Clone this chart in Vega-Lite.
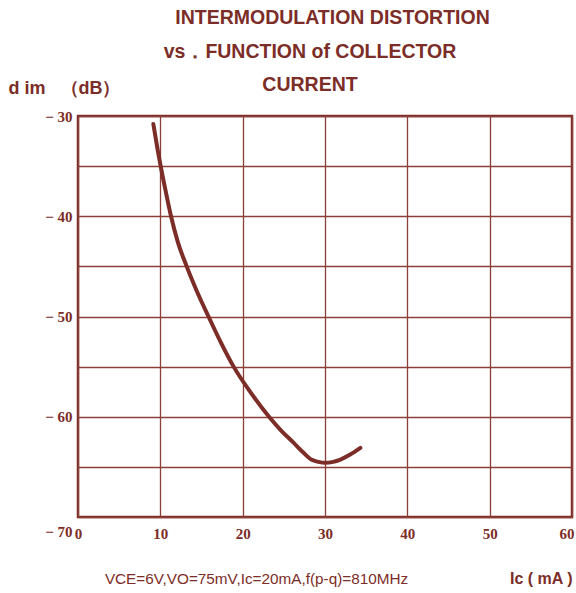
{
  "$schema": "https://vega.github.io/schema/vega-lite/v6.json",
  "autosize": {"type": "none"},
  "width": 494,
  "height": 401,
  "padding": {"left": 78, "top": 116, "right": 4, "bottom": 76},
  "background": "white",
  "config": {
    "view": {"stroke": "#7c2d27", "strokeWidth": 2.5},
    "axis": {"labelColor": "#7c2d27", "titleColor": "#7c2d27", "gridColor": "#8a3f38", "gridWidth": 1.3, "gridOpacity": 1}
  },
  "title": {
    "text": ["\u2800\u2800\u2800INTERMODULATION DISTORTION", "vs．FUNCTION of COLLECTOR", "CURRENT"],
    "font": "Liberation Sans",
    "fontSize": 19.5,
    "fontWeight": "bold",
    "color": "#7c2d27",
    "lineHeight": 33.5,
    "anchor": "middle",
    "dx": -15,
    "offset": -16.5
  },
  "data": {
    "values": [
      {"Ic": 9.15, "dim": -30.8},
      {"Ic": 9.68, "dim": -33.4},
      {"Ic": 10.04, "dim": -35.0},
      {"Ic": 10.65, "dim": -37.5},
      {"Ic": 11.3, "dim": -40.0},
      {"Ic": 12.1, "dim": -42.5},
      {"Ic": 13.2, "dim": -45.0},
      {"Ic": 14.45, "dim": -47.5},
      {"Ic": 15.85, "dim": -50.0},
      {"Ic": 17.3, "dim": -52.5},
      {"Ic": 18.9, "dim": -55.0},
      {"Ic": 20.9, "dim": -57.5},
      {"Ic": 23.2, "dim": -60.0},
      {"Ic": 24.7, "dim": -61.4},
      {"Ic": 26.2, "dim": -62.6},
      {"Ic": 27.4, "dim": -63.6},
      {"Ic": 28.4, "dim": -64.3},
      {"Ic": 29.2, "dim": -64.5},
      {"Ic": 30.0, "dim": -64.6},
      {"Ic": 31.0, "dim": -64.5},
      {"Ic": 31.8, "dim": -64.3},
      {"Ic": 33.0, "dim": -63.8},
      {"Ic": 34.3, "dim": -63.1}
    ]
  },
  "resolve": {"axis": {"x": "independent", "y": "independent"}},
  "layer": [
    {
      "mark": {"type": "line", "color": "#7c2d27", "strokeWidth": 4, "interpolate": "monotone", "strokeCap": "round"},
      "encoding": {
        "x": {
          "field": "Ic", "type": "quantitative",
          "scale": {"domain": [0, 60], "nice": false, "zero": false},
          "axis": {
            "orient": "bottom",
            "values": [0, 10, 20, 30, 40, 50, 60],
            "domain": false, "ticks": false,
            "labelFont": "Liberation Serif", "labelFontSize": 15, "labelFontWeight": "bold",
            "labelPadding": 9, "labelFlush": false,
            "labelAlign": {"condition": {"test": "datum.value == 60", "value": "right"}, "value": "center"},
            "labelOffset": {"condition": {"test": "datum.value == 60", "value": 2}, "value": 0},
            "title": "Ic (  mA )",
            "titleFont": "Liberation Sans", "titleFontSize": 16, "titleFontWeight": "bold",
            "titleAnchor": "end", "titleAlign": "right", "titleBaseline": "middle",
            "titleX": 494, "titleY": 61
          }
        },
        "y": {
          "field": "dim", "type": "quantitative",
          "scale": {"domain": [-70, -30], "nice": false, "zero": false},
          "axis": {
            "values": [-30, -35, -40, -45, -50, -55, -60, -65, -70],
            "labelExpr": "datum.value % 10 == 0 ? '−  ' + abs(datum.value) : ''",
            "domain": false, "ticks": false,
            "labelFont": "Liberation Serif", "labelFontSize": 15, "labelFontWeight": "bold",
            "labelPadding": 6, "labelFlush": false,
            "labelOffset": {"condition": {"test": "datum.value == -70", "value": 14}, "value": 0},
            "title": "d im\u00a0\u00a0\u00a0（dB）",
            "titleFont": "Liberation Sans", "titleFontSize": 18, "titleFontWeight": "bold",
            "titleAngle": 0, "titleAlign": "left", "titleBaseline": "middle",
            "titleX": -70, "titleY": -28
          }
        }
      }
    },
    {
      "mark": {"type": "line", "opacity": 0},
      "encoding": {
        "x": {
          "field": "Ic", "type": "quantitative",
          "axis": {
            "orient": "top", "labels": false, "ticks": false, "domain": false, "grid": false,
            "title": "VCE=6V,VO=75mV,Ic=20mA,f(p-q)=810MHz",
            "titleFont": "Liberation Sans", "titleFontSize": 15.3, "titleFontWeight": "normal",
            "titleAngle": 0, "titleAlign": "center", "titleBaseline": "middle",
            "titleX": 178, "titleY": 462
          }
        },
        "y": {"field": "dim", "type": "quantitative", "axis": null}
      }
    }
  ]
}
